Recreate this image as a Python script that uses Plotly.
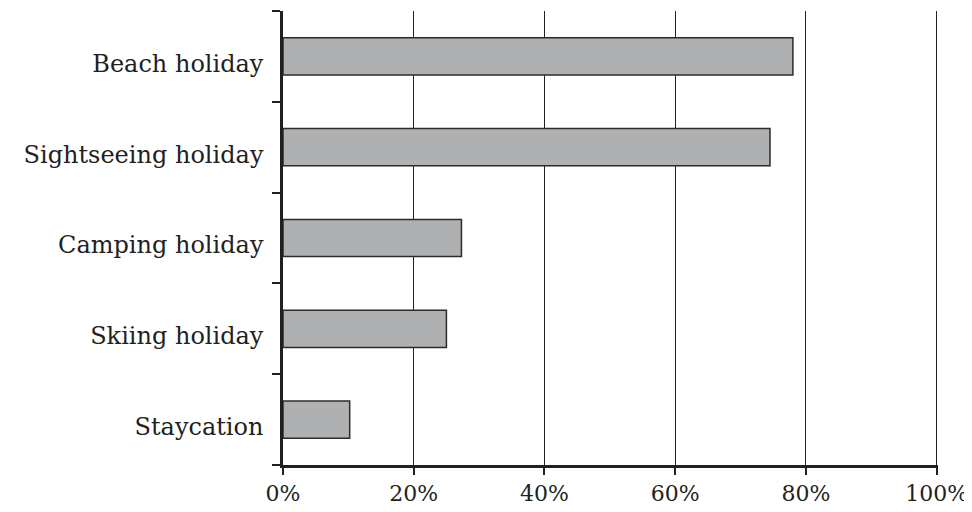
import plotly.graph_objects as go

categories = ["Beach holiday", "Sightseeing holiday", "Camping holiday", "Skiing holiday", "Staycation"]
values = [78, 74.5, 27.3, 25, 10.2]
x_ticks = [0, 20, 40, 60, 80, 100]
x_tick_labels = ["0%", "20%", "40%", "60%", "80%", "100%"]

font_family = "DejaVu Serif"

fig = go.Figure(go.Bar(
    y=categories,
    x=values,
    orientation="h",
    marker=dict(color="#aeb0b2", line=dict(color="#2b2b2b", width=1.5)),
    width=0.41,
))

# page body has an 8px margin, so the figure is 964x504 and offset by 8px
fig.update_layout(
    width=964, height=504,
    margin=dict(l=275, r=34, t=3, b=47),
    paper_bgcolor="white", plot_bgcolor="white",
    showlegend=False,
    font=dict(family=font_family, size=24, color="#231f20"),
)
fig.update_xaxes(
    range=[0, 100.2],
    tickvals=x_ticks, ticktext=x_tick_labels,
    tickfont=dict(size=22),
    showgrid=True, gridcolor="#231f20", gridwidth=1.2,
    showline=True, linecolor="#231f20", linewidth=2.5,
    ticks="outside", ticklen=7, tickwidth=1.5, tickcolor="#231f20",
    zeroline=False,
    ticklabelstandoff=0,
    automargin=False,
)
fig.update_yaxes(
    categoryorder="array", categoryarray=categories[::-1],
    tickson="boundaries",
    showline=True, linecolor="#231f20", linewidth=2.5,
    ticks="outside", ticklen=8, tickwidth=1.5, tickcolor="#231f20",
    showgrid=False, zeroline=False,
    ticklabelstandoff=12,
    ticklabelshift=7,
    automargin=False,
)

fig.write_html("out.html")
